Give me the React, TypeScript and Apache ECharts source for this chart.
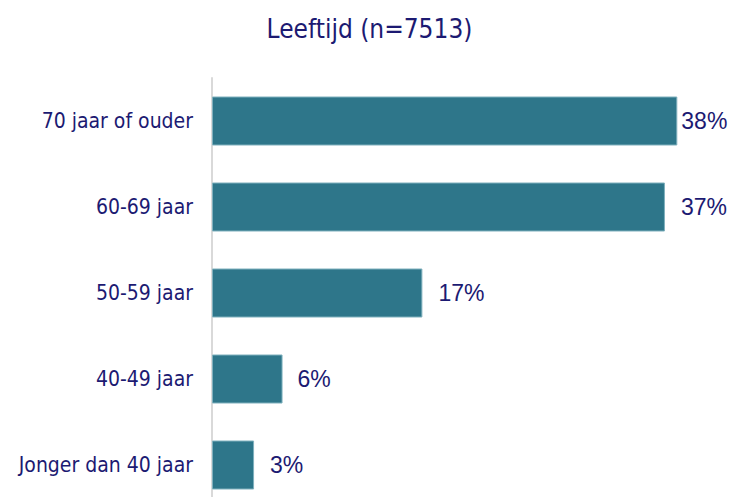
import React, { useEffect, useRef } from "react";
import * as echarts from "echarts";

const categories = ["70 jaar of ouder", "60-69 jaar", "50-59 jaar", "40-49 jaar", "Jonger dan 40 jaar"];
const values = [37.6, 36.6, 17.0, 5.7, 3.4];
const labelDistances = [4, 16, 16, 15, 16];
const titleText = "Leeftijd (n=7513)";

const NAVY = "#1c1a72";
const BAR = "#2e768a";

export default function App() {
  const ref = useRef<HTMLDivElement>(null);
  useEffect(() => {
    document.body.style.margin = "0";
    document.body.style.overflow = "hidden";
    document.documentElement.style.overflow = "hidden";
    const chart = echarts.init(ref.current!, null, { renderer: "svg" });
    chart.setOption({
      animation: false,
      backgroundColor: "#ffffff",
      title: {
        text: titleText,
        left: "center",
        top: 11,
        textStyle: {
          color: NAVY,
          fontFamily: "'DejaVu Sans Condensed', 'DejaVu Sans', sans-serif",
          fontSize: 26,
          fontWeight: "normal",
        },
      },
      grid: { left: 212, top: 78, right: 32, bottom: 0, containLabel: false },
      xAxis: {
        type: "value",
        min: 0,
        max: 40,
        show: false,
      },
      yAxis: {
        type: "category",
        data: categories,
        inverse: true,
        axisLine: { show: true, lineStyle: { color: "#d9d9d9", width: 2 } },
        axisTick: { show: false },
        axisLabel: {
          color: NAVY,
          margin: 19,
          fontFamily: "'DejaVu Sans Condensed', 'DejaVu Sans', sans-serif",
          fontSize: 21,
        },
      },
      series: [
        {
          type: "bar",
          barWidth: 49,
          data: values.map((v, i) => ({
            value: v,
            label: { distance: labelDistances[i] },
          })),
          itemStyle: { color: BAR, borderColor: "#7fb0bd", borderWidth: 1 },
          label: {
            show: true,
            position: "right",
            color: NAVY,
            fontFamily: "'Liberation Sans', Arial, sans-serif",
            fontSize: 23,
            formatter: (p: any) => Math.round(p.value) + "%",
          },
        },
      ],
    });
    return () => chart.dispose();
  }, []);
  return <div ref={ref} style={{ width: 739, height: 508 }} />;
}
